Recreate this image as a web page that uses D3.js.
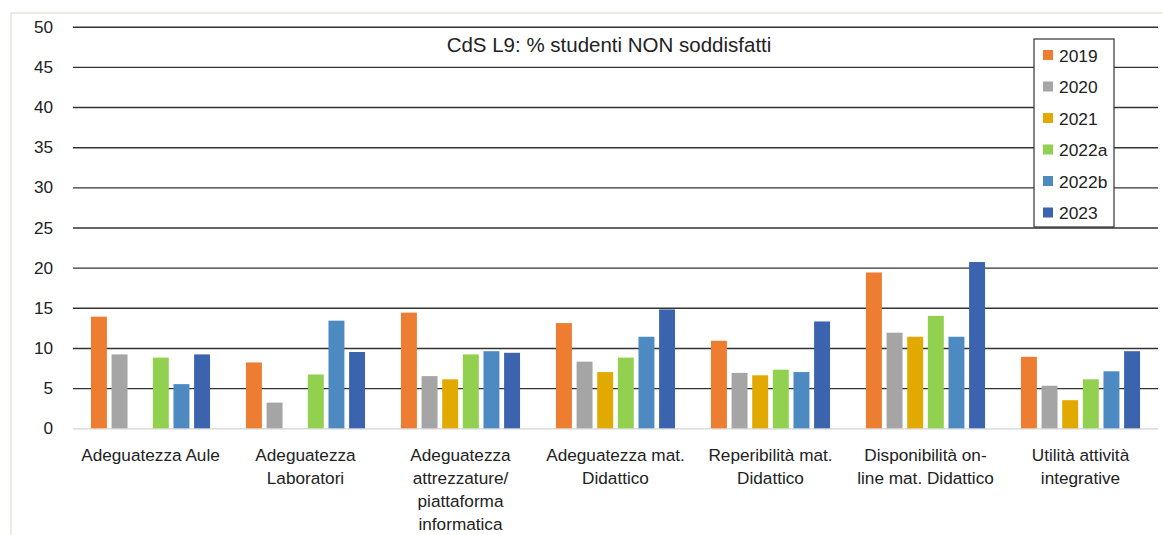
<!DOCTYPE html>
<html>
<head>
<meta charset="utf-8">
<script src="https://cdnjs.cloudflare.com/ajax/libs/d3/7.8.5/d3.min.js"></script>
<style>
  html, body { margin: 0; padding: 0; background: #fff; }
  svg { display: block; font-family: "Liberation Sans", Arial, sans-serif; }
</style>
</head>
<body>
<svg id="chart" width="1163" height="535"></svg>
<script>
// ---- data ----
const categories = [
  "Adeguatezza Aule",
  "Adeguatezza\nLaboratori",
  "Adeguatezza\nattrezzature/\npiattaforma\ninformatica",
  "Adeguatezza mat.\nDidattico",
  "Reperibilità mat.\nDidattico",
  "Disponibilità on-\nline mat. Didattico",
  "Utilità attività\nintegrative"
];
const seriesNames = ["2019", "2020", "2021", "2022a", "2022b", "2023"];
const s2019  = [13.9, 8.2, 14.4, 13.1, 10.9, 19.4, 8.9];
const s2020  = [9.2, 3.2, 6.5, 8.3, 6.9, 11.9, 5.3];
const s2021  = [null, null, 6.1, 7.0, 6.6, 11.4, 3.5];
const s2022a = [8.8, 6.7, 9.2, 8.8, 7.3, 14.0, 6.1];
const s2022b = [5.5, 13.4, 9.6, 11.4, 7.0, 11.4, 7.1];
const s2023  = [9.2, 9.5, 9.4, 14.8, 13.3, 20.7, 9.6];
const seriesValues = [s2019, s2020, s2021, s2022a, s2022b, s2023];
const yTicks = [0, 5, 10, 15, 20, 25, 30, 35, 40, 45, 50];
const title = "CdS L9: % studenti NON soddisfatti";
const colors = ["#ED7D31", "#A5A5A5", "#E2AA00", "#92D050", "#4E8AC2", "#3B63AE"];

// ---- layout ----
const svg = d3.select("#chart");
const plotL = 73, plotR = 1158, plotT = 26.7, plotB = 428.3;

// frame
svg.append("rect")
  .attr("x", 11).attr("y", 13).attr("width", 1163).attr("height", 540)
  .attr("fill", "#fff").attr("stroke", "#e6e4da").attr("stroke-width", 1.5);

const x0 = d3.scaleBand().domain(categories).range([plotL, plotR]).padding(0);
const x1 = d3.scaleBand().domain(seriesNames).range([0, x0.bandwidth()])
  .paddingInner(0.227).paddingOuter(0.87);
const y = d3.scaleLinear().domain([0, 50]).range([plotB, plotT]);
const color = d3.scaleOrdinal().domain(seriesNames).range(colors);

// y axis with gridlines
const yAxis = svg.append("g")
  .attr("transform", `translate(${plotL},0)`)
  .call(d3.axisLeft(y).tickValues(yTicks).tickSize(-(plotR - plotL)).tickPadding(20).tickFormat(d3.format("d")));
yAxis.select(".domain").remove();
yAxis.selectAll(".tick line")
  .attr("stroke", d => d === 0 ? "#d4d4d4" : "#333")
  .attr("stroke-width", d => d === 0 ? 1.2 : 1.4);
yAxis.selectAll(".tick text")
  .attr("font-size", 17.2).attr("fill", "#222")
  .attr("font-family", "Liberation Sans, Arial, sans-serif");

// bars
const rows = categories.map((c, i) => ({
  cat: c,
  vals: seriesNames.map((s, j) => ({ series: s, value: seriesValues[j][i] }))
}));
const groups = svg.append("g").selectAll("g").data(rows).join("g")
  .attr("transform", d => `translate(${x0(d.cat)},0)`);
groups.selectAll("rect")
  .data(d => d.vals.filter(v => v.value !== null))
  .join("rect")
  .attr("x", d => x1(d.series))
  .attr("width", x1.bandwidth())
  .attr("y", d => y(d.value))
  .attr("height", d => y(0) - y(d.value))
  .attr("fill", d => color(d.series));

// x axis labels
const xAxis = svg.append("g")
  .attr("transform", `translate(0,${plotB})`)
  .call(d3.axisBottom(x0).tickSize(0).tickPadding(0));
xAxis.select(".domain").remove();
xAxis.selectAll(".tick text").each(function(d) {
  const t = d3.select(this);
  t.text(null).attr("y", 0).attr("dy", null)
    .attr("font-size", 17.2).attr("fill", "#222")
    .attr("font-family", "Liberation Sans, Arial, sans-serif");
  d.split("\n").forEach((line, k) => {
    t.append("tspan").attr("x", 0).attr("y", 32.5 + k * 23.2).text(line);
  });
});

// title
svg.append("text")
  .attr("x", 609).attr("y", 52)
  .attr("text-anchor", "middle")
  .attr("font-size", 20.5).attr("fill", "#222")
  .text(title);

// legend
const lg = svg.append("g");
lg.append("rect")
  .attr("x", 1034).attr("y", 39).attr("width", 80).attr("height", 188)
  .attr("fill", "#fff").attr("stroke", "#333").attr("stroke-width", 1.2);
const items = lg.selectAll("g.item").data(seriesNames).join("g")
  .attr("class", "item")
  .attr("transform", (d, i) => `translate(1043,${55 + i * 31.5})`);
items.append("rect")
  .attr("x", 0).attr("y", -5).attr("width", 10).attr("height", 10)
  .attr("fill", d => color(d));
items.append("text")
  .attr("x", 16).attr("y", 6.5)
  .attr("font-size", 17.4).attr("fill", "#222")
  .text(d => d);
</script>
</body>
</html>
